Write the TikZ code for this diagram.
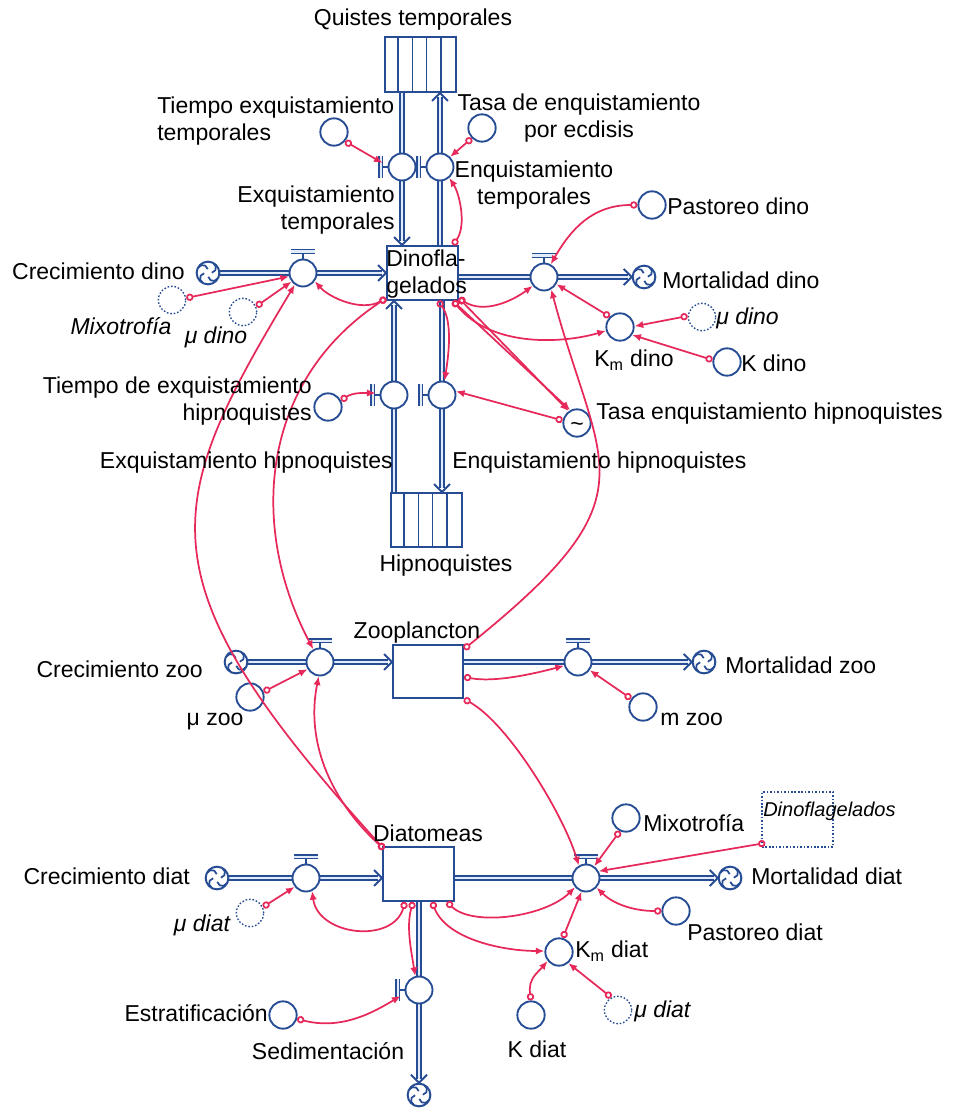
\documentclass[tikz,border=0pt]{standalone}
\usepackage{fontspec}
\setmainfont{Liberation Sans}
\usetikzlibrary{arrows.meta,backgrounds}
\definecolor{vblue}{RGB}{38,76,148}
\definecolor{lred}{RGB}{230,40,90}
\definecolor{pipein}{RGB}{225,235,250}
\begin{document}
\begin{tikzpicture}[x=0.75pt,y=-0.75pt,
  var/.style={circle,draw=vblue,line width=1.4pt,fill=white,minimum size=20.5pt,inner sep=0pt},
  ghost/.style={var,line width=1pt,dash pattern=on 1.2pt off 1.4pt},
  valve/.style={var,minimum size=20.25pt},
  stock/.style={rectangle,draw=vblue,line width=1.4pt,fill=white,minimum width=53.25pt,minimum height=40.5pt,inner sep=0pt},
  cloudn/.style={circle,draw=vblue,line width=1.5pt,fill=white,minimum size=17pt,inner sep=0pt},
  swirl/.style={draw=vblue,line width=1.3pt},
  pipe/.style={draw=vblue,double=pipein,line width=1pt,double distance=2.2pt},
  chev/.style={draw=vblue,line width=1.5pt},
  hstem/.style={draw=vblue,line width=2pt},
  hbar/.style={draw=vblue,double=pipein,line width=0.9pt,double distance=1.6pt},
  link/.style={draw=lred,line width=1.3pt,{Circle[open,length=5.5pt,width=5.5pt]}-{Latex[length=6.5pt,width=5.5pt]}},
  lbl/.style={inner sep=0pt,font=\fontsize{17.25}{20}\selectfont},
  it/.style={inner sep=0pt,font=\fontsize{17.25}{20}\selectfont\itshape},
  itsm/.style={inner sep=0pt,font=\fontsize{15}{18}\selectfont\itshape}]
\useasboundingbox (0,0) rectangle (960,1112);

% ---------- stocks ----------
\node[stock,minimum height=41.25pt] (qt) at (420.5,64.5) {};
\foreach \i in {1,2,3,4}{\draw[vblue,line width=1.2pt] (qt.south west) ++(\i*14.2,0) -- ++(0,-55);}
\node[stock] (hq) at (426.5,520) {};
\foreach \i in {1,2,3,4}{\draw[vblue,line width=1.2pt] (hq.south west) ++(\i*14.2,0) -- ++(0,-54);}
\node[stock] (dino) at (422.5,273) {};
\node[stock,minimum width=52.5pt,minimum height=39.75pt] (zoo) at (428,671.5) {};
\node[stock] (dia) at (418.5,874) {};
\node[rectangle,draw=vblue,line width=1pt,dash pattern=on 1.2pt off 1.4pt,minimum width=53.25pt,minimum height=41.25pt,inner sep=0pt] (ghd) at (797.5,819.5) {};

% ---------- valves and clouds ----------
\node[valve] (vet) at (402,167) {};
\node[valve] (ven) at (440,167) {};
\node[valve] (veh) at (394,395) {};
\node[valve] (venh) at (442,395) {};
\node[valve] (vcd) at (303,273) {};
\node[valve] (vmd) at (544,277) {};
\node[valve] (vcz) at (320,662) {};
\node[valve] (vmz) at (578,662) {};
\node[valve] (vcdt) at (306,878) {};
\node[valve] (vmdt) at (586,878) {};
\node[valve] (vsed) at (419,990) {};
\node[cloudn] (cd) at (208,273) {};
\node[cloudn] (md) at (644,277) {};
\node[cloudn] (cz) at (236,662) {};
\node[cloudn] (mzc) at (704,662) {};
\node[cloudn] (cdt) at (217,878) {};
\node[cloudn] (mdtc) at (730,878) {};
\node[cloudn] (sedc) at (419,1095) {};
\foreach \c in {cd,md,cz,mzc,cdt,mdtc,sedc}{
  \foreach \a in {30,120,210,300}{\draw[swirl] (\c.center) ++(\a:11) arc[start angle=\a,end angle=\a+140,radius=5];}}

% ---------- pipes (behind) ----------
\begin{pgfonlayer}{background}
\fill[white] (0,0) rectangle (960,1112);
\draw[pipe] (vet |- qt.south) -- ([yshift=3pt]vet |- dino.north);
\draw[chev] (vet |- dino.north) ++(-8,-8) -- ++(8,8) -- ++(8,-8);
\draw[pipe] (ven |- dino.north) -- ([yshift=-3pt]ven |- qt.south);
\draw[chev] (ven |- qt.south) ++(-8,8) -- ++(8,-8) -- ++(8,8);
\draw[pipe] (veh |- hq.north) -- ([yshift=-3pt]veh |- dino.south);
\draw[chev] (veh |- dino.south) ++(-8,8) -- ++(8,-8) -- ++(8,8);
\draw[pipe] (venh |- dino.south) -- ([yshift=3pt]venh |- hq.north);
\draw[chev] (venh |- hq.north) ++(-8,-8) -- ++(8,8) -- ++(8,-8);
\draw[pipe] (cd.east) -- ([xshift=-3pt]dino.west |- vcd);
\draw[chev] (dino.west |- vcd) ++(-8,-8) -- ++(8,8) -- ++(-8,8);
\draw[pipe] (dino.east |- vmd) -- ([xshift=-3pt]md.west);
\draw[chev] (md.west) ++(-8,-8) -- ++(8,8) -- ++(-8,8);
\draw[pipe] (cz.east) -- ([xshift=-3pt]zoo.west |- vcz);
\draw[chev] (zoo.west |- vcz) ++(-8,-8) -- ++(8,8) -- ++(-8,8);
\draw[pipe] (zoo.east |- vmz) -- ([xshift=-3pt]mzc.west);
\draw[chev] (mzc.west) ++(-8,-8) -- ++(8,8) -- ++(-8,8);
\draw[pipe] (cdt.east) -- ([xshift=-3pt]dia.west |- vcdt);
\draw[chev] (dia.west |- vcdt) ++(-8,-8) -- ++(8,8) -- ++(-8,8);
\draw[pipe] (dia.east |- vmdt) -- ([xshift=-3pt]mdtc.west);
\draw[chev] (mdtc.west) ++(-8,-8) -- ++(8,8) -- ++(-8,8);
\draw[pipe] (vsed |- dia.south) -- ([yshift=3pt]sedc.north);
\draw[chev] (sedc.north) ++(-8,-8) -- ++(8,8) -- ++(8,-8);
\end{pgfonlayer}

% ---------- valve handles ----------
\foreach \v in {vcd,vmd,vcz,vmz,vcdt,vmdt}{
  \draw[hstem] (\v.north) -- ++(0,-6);
  \draw[hbar] (\v.north) ++(-12,-7) -- ++(24,0);}
\foreach \v in {vet,ven,veh,venh,vsed}{
  \draw[hstem] (\v.west) -- ++(-6,0);
  \draw[hbar] (\v.west) ++(-7,-11) -- ++(0,22);}
\path (vet.west) ++(-5,-4) coordinate (vetH);
\path (veh.west) ++(-4,-2) coordinate (vehH);
\path (vsed.west) ++(-4,6) coordinate (vsedH);

% ---------- auxiliaries ----------
\node[var] (tet) at (334,132) {};
\node[var] (ted) at (482,128) {};
\node[var] (pd) at (652,205) {};
\node[ghost] (mud2) at (702,317) {};
\node[var] (kmd) at (620,327) {};
\node[var] (kd) at (727,362) {};
\node[var] (teh) at (577,423) {};
\node[lbl] (tehs) at ([yshift=-3pt]teh.center) {\textasciitilde};
\node[ghost] (mix1) at (172,300) {};
\node[ghost] (mud1) at (243,312) {};
\node[var] (tdeh) at (328,407) {};
\node[var] (muz) at (250,697) {};
\node[var] (mz) at (643,707) {};
\node[ghost] (mudt1) at (250,913) {};
\node[var] (mix2) at (626,818) {};
\node[var] (pdt) at (676,911) {};
\node[var] (kmdt) at (559,952) {};
\node[var] (kdt) at (531,1015) {};
\node[ghost] (mudt2) at (618,1010) {};
\node[var] (est) at (283,1015) {};

% ---------- link origins on stocks ----------
\coordinate (dTR) at ([xshift=-4.5pt]dino.north east);
\coordinate (dBL) at ([yshift=2pt]dino.south west);
\coordinate (dB) at ([xshift=11.6pt]dino.south);
\coordinate (dBR1) at ([xshift=-4.5pt]dino.south east);
\coordinate (dBR2) at ([yshift=2pt]dino.south east);
\coordinate (zTR) at ([yshift=-3.75pt]zoo.north east);
\coordinate (zR) at ([yshift=-4pt]zoo.east);
\coordinate (zBR) at (zoo.south east);
\coordinate (diaTL) at ([xshift=1.5pt,yshift=-2.25pt]dia.north west);
\coordinate (diaB1) at ([xshift=-10.1pt]dia.south);
\coordinate (diaB2) at ([xshift=-4.1pt]dia.south);
\coordinate (diaB3) at ([xshift=10.1pt]dia.south);
\coordinate (diaB4) at ([xshift=21.4pt]dia.south);
\coordinate (ghO) at ([xshift=3pt,yshift=3.5pt]ghd.south west);

% ---------- links ----------
\draw[link] (tet.-40) -- (vetH);
\draw[link] (ted.-135) -- (ven.45);
\draw[link] (dTR) .. controls +(14,-20) and +(10,15) .. (ven.-50);
\draw[link] (dBL) .. controls +(-25,14) and +(14,16) .. (vcd.-35);
\draw[link] (dBL) .. controls +(-126,83) and +(-65,-123) .. (vcz.118);
\draw[link] (diaTL) .. controls +(-245,-270) and +(-134,223) .. (vcd.-125);
\draw[link] (diaTL) .. controls +(-55,-50) and +(-13,64) .. (vcz.-95);
\draw[link] (zTR) .. controls +(193,-155) and +(49,183) .. (vmd.-60);
\draw[link] (zBR) .. controls +(45,25) and +(-15,-50) .. (vmdt.120);
\draw[link] (zR) .. controls +(30,6) and +(-30,8) .. (vmz.-165);
\draw[link] (mz.145) -- (vmz.-35);
\draw[link] (muz.21) -- (vcz.-150);
\draw[link] (mix1.8) -- (vcd.-166);
\draw[link] (mud1.23) -- (vcd.-143);
\draw[link] (tdeh.27) .. controls +(12,-8) and +(-12,0) .. (vehH);
\draw[link] (dB) .. controls +(15,20) and +(4,-25) .. (venh.80);
\draw[link] (teh.170) -- (venh.15);
\draw[link] (dBR1) -- (teh.118);
\draw[link] (dBR2) -- (teh.125);
\draw[link] (dBR2) .. controls +(25,16) and +(-20,15) .. (vmd.-142);
\draw[link] (dBR1) .. controls +(40,48) and +(-40,12) .. (kmd.-165);
\draw[link] (kmd.135) -- (vmd.-30);
\draw[link] (mud2.176) -- (kmd.3);
\draw[link] (kd.172) -- (kmd.-33);
\draw[link] (pd.180) .. controls +(-45,0) and +(20,-35) .. (vmd.62);
\draw[link] (mudt1.25) -- (vcdt.-142);
\draw[link] (diaB1) .. controls +(-12,42) and +(6,45) .. (vcdt.-65);
\draw[link] (diaB2) .. controls +(-7,25) and +(-4,-25) .. (vsed.105);
\draw[link] (est.-15) .. controls +(45,12) and +(-25,15) .. (vsedH);
\draw[link] (diaB3) .. controls +(15,38) and +(-40,0) .. (kmdt.176);
\draw[link] (diaB4) .. controls +(25,25) and +(-30,30) .. (vmdt.-140);
\draw[link] (kmdt.75) -- (vmdt.-108);
\draw[link] (kdt.90) .. controls +(-3,-22) and +(-10,12) .. (kmdt.-142);
\draw[link] (mudt2.118) -- (kmdt.-50);
\draw[link] (pdt.180) .. controls +(-30,0) and +(15,15) .. (vmdt.-42);
\draw[link] (mix2.-115) -- (vmdt.55);
\draw[link] (ghO) -- (vmdt.28);

% ---------- labels ----------
\node[lbl] (lqt) at (413,20) {Quistes temporales};
\node[lbl,align=left,anchor=west] (ltet) at (157,121) {Tiempo exquistamiento\\temporales};
\node[lbl,align=center] (lted) at (579,118) {Tasa de enquistamiento\\por ecdisis};
\node[lbl,align=right,anchor=east] (lvet) at (395,210) {Exquistamiento\\temporales};
\node[lbl,align=center] (lven) at (534,185) {Enquistamiento\\temporales};
\node[lbl,anchor=east] (lcd) at (185,271) {Crecimiento dino};
\node[it] (lmix1) at (121,326) {Mixotrofía};
\node[it] (lmud1) at (216,337) {μ dino};
\node[lbl,align=left,anchor=west] (ldino) at (386,274) {Dinofla-\\gelados};
\node[lbl,anchor=west] (lmd) at (662,280) {Mortalidad dino};
\node[lbl,anchor=west] (lpd) at (667,206) {Pastoreo dino};
\node[it,anchor=west] (lmud2) at (716,318) {μ dino};
\node[lbl] (lkmd) at (634,360) {K\textsubscript{m} dino};
\node[lbl,anchor=west] (lkd) at (741,363) {K dino};
\node[lbl,anchor=west] (lteh) at (596,414) {Tasa enquistamiento hipnoquistes};
\node[lbl,align=right,anchor=east] (ltdeh) at (312,401) {Tiempo de exquistamiento\\hipnoquistes};
\node[lbl,anchor=east] (lveh) at (393,463) {Exquistamiento hipnoquistes};
\node[lbl,anchor=west] (lvenh) at (452,463) {Enquistamiento hipnoquistes};
\node[lbl] (lhq) at (446,566) {Hipnoquistes};
\node[lbl] (lzoo) at (417,633) {Zooplancton};
\node[lbl,anchor=east] (lcz) at (203,669) {Crecimiento zoo};
\node[lbl] (lmuz) at (215,722) {μ zoo};
\node[lbl,anchor=west] (lmz) at (725,665) {Mortalidad zoo};
\node[lbl,anchor=west] (lmzz) at (660,719) {m zoo};
\node[lbl] (ldia) at (428,833) {Diatomeas};
\node[lbl,anchor=east] (lcdt) at (190,876) {Crecimiento diat};
\node[it] (lmudt1) at (202,925) {μ diat};
\node[lbl,anchor=west] (lmix2) at (643,823) {Mixotrofía};
\node[itsm,anchor=west] (lghd) at (763,811) {Dinoflagelados};
\node[lbl,anchor=west] (lmdt) at (751,876) {Mortalidad diat};
\node[lbl,anchor=west] (lpdt) at (687,932) {Pastoreo diat};
\node[lbl,anchor=west] (lkmdt) at (575,951) {K\textsubscript{m} diat};
\node[lbl] (lkdt) at (537,1049) {K diat};
\node[it,anchor=west] (lmudt2) at (634,1011) {μ diat};
\node[lbl,anchor=east] (lest) at (268,1013) {Estratificación};
\node[lbl] (lsed) at (328,1051) {Sedimentación};
\end{tikzpicture}
\end{document}
